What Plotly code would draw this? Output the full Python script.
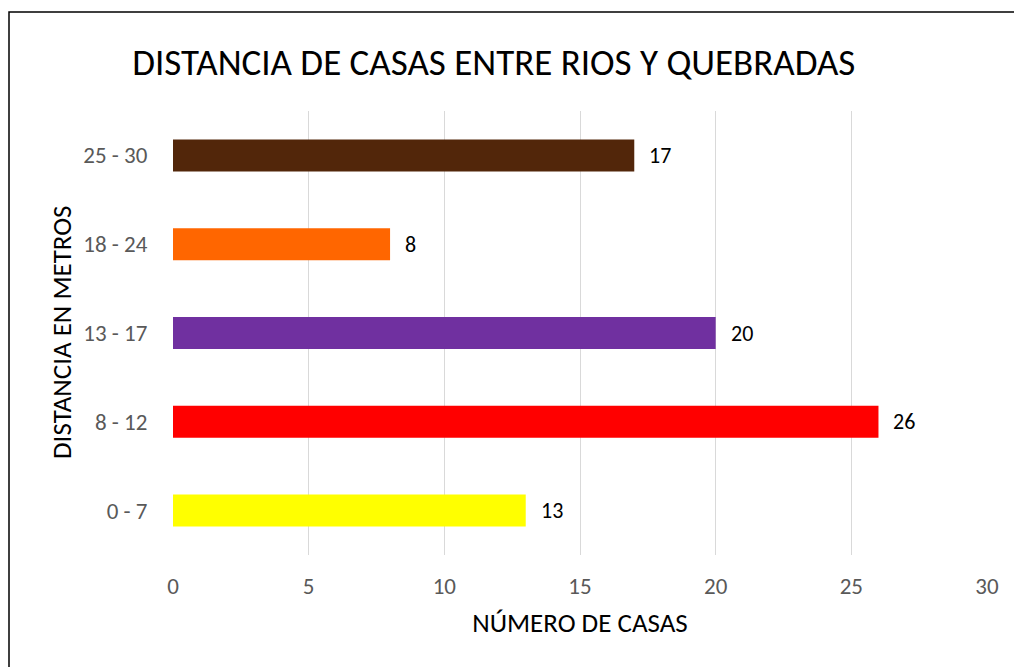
import plotly.graph_objects as go

# Datos del gráfico
rangos = ["0 - 7", "8 - 12", "13 - 17", "18 - 24", "25 - 30"]
casas = [13, 26, 20, 8, 17]
colores = ["#FFFF00", "#FF0000", "#7030A0", "#FF6600", "#52260A"]
ticks_x = [0, 5, 10, 15, 20, 25, 30]

FONT = "Calibri, Carlito, Lato, sans-serif"

fig = go.Figure()
fig.add_trace(go.Bar(
    x=casas, y=rangos, orientation="h",
    marker=dict(color=colores, line=dict(width=0)),
    hoverinfo="skip",
))

# Etiquetas de datos a la derecha de cada barra
for r, v in zip(rangos, casas):
    fig.add_annotation(x=v, y=r, text=str(v), showarrow=False,
                       xanchor="left", xshift=13,
                       font=dict(family=FONT, size=22, color="#000000"))

# Título del eje Y como anotación girada
fig.add_annotation(text="DISTANCIA EN METROS", textangle=-90,
                   xref="paper", yref="paper", x=(61 - 173) / 814, y=0.5,
                   xanchor="center", yanchor="middle", showarrow=False,
                   font=dict(family=FONT, size=27, color="#000000"))

fig.update_layout(
    width=1014, height=667,
    margin=dict(l=173, r=27, t=111, b=112),
    paper_bgcolor="white", plot_bgcolor="white",
    showlegend=False,
    bargap=0.64,
    font=dict(family=FONT),
    title=dict(text="DISTANCIA DE CASAS ENTRE RIOS Y QUEBRADAS",
               x=0.487, xanchor="center", xref="container",
               y=1 - 62 / 667, yanchor="middle", yref="container",
               font=dict(family=FONT, size=37, color="#000000")),
    xaxis=dict(range=[0, 30], tickvals=ticks_x, showgrid=True,
               gridcolor="#D9D9D9", gridwidth=1, zeroline=False, showline=False,
               ticks="outside", ticklen=10, tickcolor="rgba(0,0,0,0)",
               tickfont=dict(family=FONT, size=23, color="#595959"),
               title=dict(text="NÚMERO DE CASAS", standoff=14,
                          font=dict(family=FONT, size=27, color="#000000"))),
    yaxis=dict(showgrid=False, zeroline=False, showline=False,
               ticks="outside", ticklen=20, tickcolor="rgba(0,0,0,0)",
               tickfont=dict(family=FONT, size=23, color="#595959")),
    shapes=[dict(type="rect", xref="paper", yref="paper",
                 x0=(9 - 173) / 814, x1=1.2, y0=-0.4, y1=(555 - 12) / 444,
                 line=dict(color="#000000", width=1.5), layer="below")],
)

fig.write_html("out.html", config={"displayModeBar": False},
               post_script="document.body.style.margin='0';document.body.style.overflow='hidden';")
